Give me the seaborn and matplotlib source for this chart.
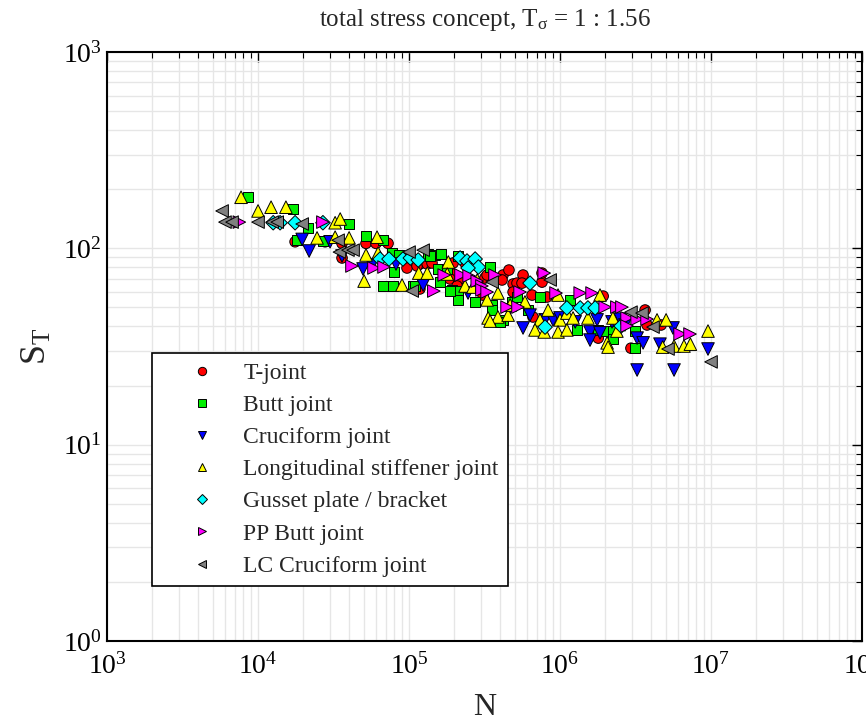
import numpy as np
import pandas as pd
import matplotlib
matplotlib.use("Agg")
import matplotlib.pyplot as plt
import seaborn as sns
from matplotlib.lines import Line2D
from matplotlib.ticker import LogLocator, NullFormatter

# cycles N and total stress range S_T
t_joint_n = [1.76e4, 2.78e4, 3.6e4, 3.6e4, 5.19e4, 6.04e4, 7.26e4, 9.7e4, 1.18e5, 1.18e5,
             1.13e5, 1.32e5, 1.42e5, 1.79e5, 1.96e5, 1.93e5, 1.87e5, 2.14e5, 2.35e5, 2.18e5,
             2.08e5, 3.18e5, 3.29e5, 3.09e5, 4.01e5, 4.19e5, 4.13e5, 4.59e5, 4.89e5, 4.89e5,
             5.69e5, 5.19e5, 5.6e5, 7.6e5, 7.6e5, 6.53e5, 8.2e5, 6.62e5, 1.79e6, 1.93e6,
             3.66e6, 3.77e6, 4.67e6, 2.95e6]
t_joint_s = [108, 108, 106, 89.3, 106, 106, 106, 79.4, 83.2, 62.1,
             81.3, 83.2, 84.2, 78.5, 84.2, 74.0, 69.8, 67.3, 84.2, 69.8,
             64.3, 70.6, 73.1, 57.8, 70.6, 73.1, 69.0, 77.5, 65.8, 59.9,
             73.1, 66.5, 66.5, 67.3, 74.8, 57.8, 56.5, 44.7, 34.9, 57.1,
             48.5, 40.7, 40.7, 31.0]

butt_n = [8.59e3, 1.71e4, 2.14e4, 4.01e4, 1.81e4, 2.69e4, 5.19e4, 6.73e4, 7.71e4, 6.73e4,
          7.83e4, 1.06e5, 7.95e4, 8.59e4, 1.34e5, 1.49e5, 1.62e5, 1.38e5, 1.56e5, 1.79e5,
          1.60e5, 2.11e5, 3.44e5, 1.93e5, 2.11e5, 2.11e5, 1.87e5, 1.10e5, 2.74e5, 3.56e5,
          3.56e5, 4.19e5, 4.81e5, 6.14e5, 7.37e5, 1.16e6, 1.30e6, 1.79e6, 1.99e6, 2.24e6,
          3.15e6, 2.24e6, 3.14e6, 5.19e5, 4.01e5]
butt_s = [182, 158, 127, 133, 110, 109, 116, 110, 94.6, 64.3,
          64.3, 64.3, 75.7, 92.5, 93.5, 92.5, 93.5, 91.4, 78.5, 78.5,
          67.3, 91.4, 80.3, 61.4, 60.6, 54.6, 60.6, 64.3, 53.3, 51.4,
          48.5, 43.2, 53.3, 48.5, 56.5, 54.6, 38.4, 38.4, 37.9, 37.9,
          37.9, 34.5, 31.0, 56.5, 42.2]

cruciform_n = [1.96e4, 2.18e4, 3.0e4, 3.6e4, 4.96e4, 5.69e4, 8.2e4, 1.24e5, 2.46e5, 4.59e5,
               6.33e5, 7.96e5, 8.99e5, 5.69e5, 1.0e6, 1.26e6, 1.58e6, 1.58e6, 1.76e6, 1.84e6,
               2.21e6, 2.5e6, 2.69e6, 3.24e6, 3.55e6, 4.59e6, 5.6e6, 9.55e6, 3.24e6, 5.69e6]
cruciform_s = [111, 96.9, 108, 91.4, 78.5, 82.2, 83.2, 65.0, 59.2, 48.5,
               45.7, 43.2, 43.2, 39.3, 44.2, 42.2, 37.5, 34.1, 43.2, 37.1,
               42.2, 43.6, 40.7, 34.9, 33.0, 32.5, 39.3, 30.7, 24.0, 24.0]

long_stiff_n = [7.72e3, 1.0e4, 1.22e4, 1.53e4, 3.24e4, 3.5e4, 2.46e4, 3.24e4, 4.01e4, 6.14e4,
                5.19e4, 6.24e4, 5.04e4, 8.99e4, 1.82e5, 1.79e5, 1.16e5, 1.32e5, 2.35e5, 2.65e5,
                2.83e5, 3.88e5, 3.29e5, 3.34e5, 3.88e5, 4.53e5, 4.67e5, 3.44e5, 5.86e5, 7.37e5,
                8.33e5, 9.7e5, 1.0e6, 1.11e6, 1.22e6, 1.53e6, 1.84e6, 6.83e5, 7.86e5, 9.7e5,
                1.11e6, 2.05e6, 2.24e6, 2.38e6, 2.08e6, 4.39e6, 5.04e6, 4.78e6, 5.69e6, 6.62e6,
                7.3e6, 9.55e6]
long_stiff_s = [182, 155, 162, 162, 135, 141, 113, 114, 113, 114,
                92.5, 94.6, 68.1, 65.0, 85.2, 74.0, 74.8, 74.8, 64.3, 63.5,
                69.0, 59.2, 54.6, 44.2, 44.7, 45.7, 51.4, 42.6, 53.3, 43.2,
                48.5, 57.8, 43.2, 46.8, 44.2, 44.2, 57.8, 38.4, 37.5, 37.5,
                38.4, 33.0, 44.2, 37.9, 31.4, 43.2, 43.2, 31.4, 31.8, 31.8,
                32.5, 37.9]

gusset_n = [1.26e4, 1.40e4, 1.76e4, 2.69e4, 6.43e4, 7.37e4, 9.12e4, 1.02e5, 1.15e5, 2.18e5,
            2.42e5, 2.74e5, 2.88e5, 2.46e5, 6.33e5, 1.11e6, 1.36e6, 1.53e6, 1.71e6, 7.96e5,
            2.54e6]
gusset_s = [135, 135, 135, 135, 88.2, 88.2, 88.2, 89.3, 87.2, 89.3,
            86.2, 88.2, 80.3, 79.4, 66.5, 49.7, 49.7, 49.7, 49.7, 39.7,
            40.2]

pp_butt_n = [7.52e3, 2.69e4, 4.19e4, 5.86e4, 6.83e4, 1.46e5, 1.71e5, 2.21e5, 2.5e5, 2.83e5,
             3.04e5, 3.04e5, 3.71e5, 3.29e5, 4.46e5, 5.27e5, 5.44e5, 7.86e5, 9.41e5, 1.36e6,
             1.63e6, 1.99e6, 2.38e6, 2.57e6, 2.78e6, 3.24e6, 3.77e6, 2.78e6, 6.24e6, 7.26e6]
pp_butt_s = [136, 136, 81.3, 79.4, 80.3, 60.6, 73.1, 73.1, 72.3, 68.1,
             64.3, 61.4, 73.1, 59.9, 50.2, 50.2, 59.9, 74.8, 59.2, 59.2,
             59.2, 50.2, 50.2, 50.2, 44.2, 43.6, 43.6, 40.2, 36.6, 36.6]

lc_cruciform_n = [5.78e3, 6.04e3, 6.73e3, 1.0e4, 1.24e4, 1.34e4, 1.96e4, 3.39e4, 3.46e4, 3.94e4,
                  4.26e4, 1.0e5, 1.24e5, 1.05e5, 3.55e5, 8.6e5, 2.95e6, 3.49e6, 4.13e6, 5.19e6,
                  1.0e7]
lc_cruciform_s = [155, 136, 136, 136, 136, 136, 133, 110, 95.7, 97.9,
                  97.9, 95.7, 97.9, 60.6, 67.3, 69.0, 47.3, 46.8, 39.7, 30.7,
                  26.4]

labels = ["T-joint", "Butt joint", "Cruciform joint", "Longitudinal stiffener joint",
          "Gusset plate / bracket", "PP Butt joint", "LC Cruciform joint"]
colors = ["#ff0000", "#00ee00", "#0000ff", "#ffff00", "#00ffff", "#ff00ff", "#808080"]
markers = ["o", "s", "v", "^", "D", ">", "<"]
sizes = [58, 52, 82, 82, 55, 82, 82]

series = [(t_joint_n, t_joint_s), (butt_n, butt_s), (cruciform_n, cruciform_s),
          (long_stiff_n, long_stiff_s), (gusset_n, gusset_s), (pp_butt_n, pp_butt_s),
          (lc_cruciform_n, lc_cruciform_s)]

frames = []
for name, (n, s) in zip(labels, series):
    frames.append(pd.DataFrame({"N": n, "S": s, "joint": name}))
df = pd.concat(frames, ignore_index=True)

sns.set_style("white")
plt.rcParams["font.family"] = ["Liberation Serif", "DejaVu Serif"]
plt.rcParams["mathtext.fontset"] = "custom"
plt.rcParams["mathtext.rm"] = "Liberation Serif"
plt.rcParams["mathtext.it"] = "Liberation Serif:italic"

fig = plt.figure(figsize=(8.66, 7.2), dpi=100)
ax = fig.add_axes([0.1236, 0.1097, 0.8718, 0.8181])

sns.scatterplot(data=df, x="N", y="S", hue="joint", style="joint", size="joint",
                palette=dict(zip(labels, colors)), markers=dict(zip(labels, markers)),
                sizes=dict(zip(labels, sizes)), hue_order=labels, style_order=labels,
                size_order=labels, edgecolor="black", linewidth=0.7, legend=False,
                ax=ax, zorder=3)

ax.set_xscale("log")
ax.set_yscale("log")
ax.set_xlim(1e3, 1e8)
ax.set_ylim(1, 1e3)
ax.xaxis.set_minor_locator(LogLocator(base=10, subs=np.arange(2, 10)))
ax.yaxis.set_minor_locator(LogLocator(base=10, subs=np.arange(2, 10)))
ax.xaxis.set_minor_formatter(NullFormatter())
ax.yaxis.set_minor_formatter(NullFormatter())
ax.grid(True, which="both", color="#e6e6e6", linewidth=1.0, zorder=0)
ax.set_axisbelow(True)

ax.tick_params(which="both", direction="in", top=True, right=True, colors="black")
ax.tick_params(which="major", length=7, width=1.0, labelsize=20)
ax.tick_params(which="minor", length=4, width=0.8)
ax.tick_params(axis="x", which="major", pad=9)
ax.tick_params(axis="y", which="major", pad=4)
for sp in ax.spines.values():
    sp.set_color("black")
    sp.set_linewidth(1.5)

ax.set_xlabel("N", fontsize=23, labelpad=9)
ax.set_ylabel(r"$\mathrm{S}_{\mathrm{T}}$", fontsize=26, labelpad=6)
ax.set_title(r"total stress concept, $\mathrm{T}_{\mathrm{σ}}$ = 1 : 1.56", fontsize=18, pad=19)

handles = [Line2D([], [], linestyle="none", marker=m, markerfacecolor=c,
                  markeredgecolor="black", markeredgewidth=0.7,
                  markersize=5 if m == "D" else 6)
           for m, c in zip(markers, colors)]
leg = ax.legend(handles, labels, loc="lower left", bbox_to_anchor=(0.06, 0.093),
                fontsize=17, frameon=True, fancybox=False, framealpha=1,
                edgecolor="black", borderpad=0.4, labelspacing=0.45,
                handlelength=3.4, handletextpad=0.05, borderaxespad=0)
leg.get_frame().set_linewidth(1.2)

fig.savefig("out.png", dpi=100)
